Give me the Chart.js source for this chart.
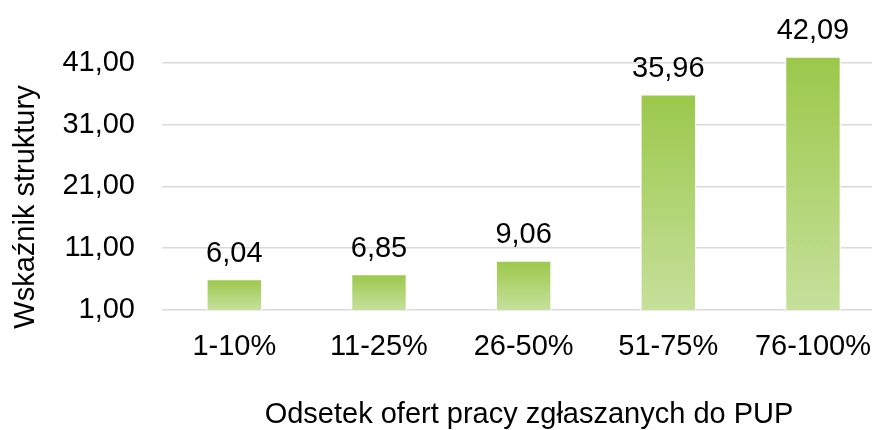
<!DOCTYPE html>
<html>
<head>
<meta charset="utf-8">
<script src="https://cdn.jsdelivr.net/npm/chart.js@4"></script>
<style>
html,body{margin:0;padding:0;background:#fff;overflow:hidden;}
#wrap{width:891px;height:430px;position:relative;}
</style>
</head>
<body>
<div id="wrap"><canvas id="c" width="891" height="430"></canvas></div>
<script>
const categories = ["1-10%", "11-25%", "26-50%", "51-75%", "76-100%"];
const values = [6.04, 6.85, 9.06, 35.96, 42.09];
const yTicks = [1, 11, 21, 31, 41];
const yTitle = "Wskaźnik struktury";
const xTitle = "Odsetek ofert pracy zgłaszanych do PUP";

const FONT = "'Liberation Sans', Arial, sans-serif";
const FS = 29;
const fmt = v => v.toFixed(2).replace('.', ',');

const labelPlugin = {
  id: 'valueLabels',
  afterDatasetsDraw(chart) {
    const ctx = chart.ctx;
    const meta = chart.getDatasetMeta(0);
    ctx.save();
    ctx.font = FS + "px " + FONT;
    ctx.fillStyle = "#000";
    ctx.textAlign = "center";
    ctx.textBaseline = "alphabetic";
    meta.data.forEach((bar, i) => {
      ctx.fillText(fmt(values[i]), bar.x, bar.y - 17);
    });
    // x axis title
    ctx.fillText(xTitle, 529, 423);
    // y axis title
    ctx.translate(26, 207);
    ctx.rotate(-Math.PI / 2);
    ctx.textBaseline = "middle";
    ctx.fillText(yTitle, 0, 0);
    ctx.restore();
  }
};

function barGradient(context) {
  const chart = context.chart;
  const ys = chart.scales && chart.scales.y;
  if (!ys || !chart.chartArea) return '#A9CF68';
  const v = context.raw;
  const top = ys.getPixelForValue(v);
  const bottom = ys.getPixelForValue(ys.min);
  if (!isFinite(top) || !isFinite(bottom) || top === bottom) return '#A9CF68';
  const g = chart.ctx.createLinearGradient(0, top, 0, bottom);
  g.addColorStop(0, '#9BC84A');
  g.addColorStop(1, '#C6E09B');
  return g;
}

new Chart(document.getElementById('c'), {
  type: 'bar',
  data: {
    labels: categories,
    datasets: [{
      data: values,
      backgroundColor: barGradient,
      borderColor: '#ffffff',
      borderWidth: 1.5,
      borderSkipped: false,
      categoryPercentage: 1,
      barPercentage: 0.39
    }]
  },
  plugins: [labelPlugin],
  options: {
    responsive: false,
    animation: false,
    layout: { padding: { top: 0, right: 0, left: 0, bottom: 0 } },
    plugins: { legend: { display: false }, tooltip: { enabled: false } },
    scales: {
      x: {
        grid: { display: false, drawTicks: false },
        border: { display: false },
        ticks: { color: '#000', font: { family: FONT, size: FS }, padding: 20, maxRotation: 0 },
        title: { display: false },
        afterFit(s) { s.height = 120; }
      },
      y: {
        min: 1, max: 44,
        afterBuildTicks(s) { s.ticks = yTicks.map(v => ({ value: v })); },
        grid: { color: '#D9D9D9', lineWidth: 1.6, drawTicks: false },
        border: { display: false },
        ticks: { color: '#000', font: { family: FONT, size: FS }, padding: 27, callback: v => fmt(v) },
        title: { display: false },
        afterFit(s) { s.width = 162; }
      }
    }
  }
});
</script>
</body>
</html>
